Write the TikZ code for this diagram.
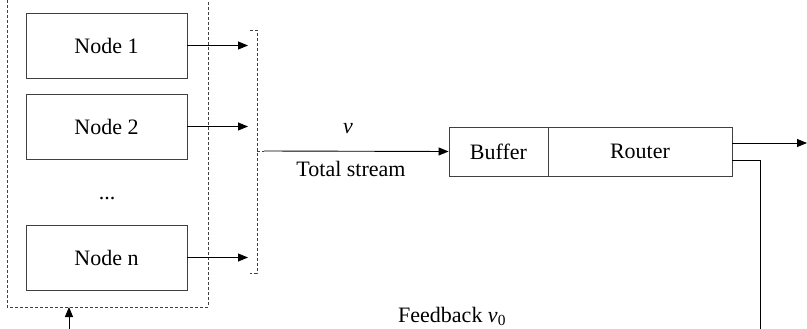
\documentclass[tikz,border=0pt]{standalone}
\usepackage{fontspec}
\setmainfont{Liberation Serif}
\usetikzlibrary{arrows.meta}
\begin{document}
\begin{tikzpicture}[x=1pt,y=-1pt,
  box/.style={draw=black!75,line width=0.9pt,rectangle,minimum height=65pt,minimum width=161pt,inner sep=0pt,font=\fontsize{22}{26}\selectfont},
  rbox/.style={draw=black!75,line width=0.9pt,rectangle,minimum height=49pt,inner sep=0pt,font=\fontsize{22}{26}\selectfont},
  lbl/.style={inner sep=0pt,font=\fontsize{22}{26}\selectfont},
  dsh/.style={draw=black!75,line width=0.8pt,dash pattern=on 3pt off 2pt},
  arr/.style={draw=black,line width=0.9pt,-{Triangle[length=10pt,width=8pt]}},
  ln/.style={draw=black,line width=0.9pt}]
\useasboundingbox (0,0) rectangle (807,329);
\clip (0,0) rectangle (807,329);
% outer dashed box (top edge cut off)
\draw[dsh] (7,-10) -- (7,307) -- (208,307) -- (208,-10);
\node[box] (n1) at (106.5,45.5) {Node 1};
\node[box] (n2) at (106.5,126.5) {Node 2};
\node[box] (nn) at (106.5,257.5) {Node n};
\node[lbl] (dots) at (107,199) {...};
\coordinate (a1) at (248,45.5);
\coordinate (a2) at (248,126.5);
\coordinate (an) at (248,257.5);
\draw[arr] (n1.east) -- (a1);
\draw[arr] (n2.east) -- (a2);
\draw[arr] (nn.east) -- (an);
% bracket
\coordinate (bt) at (257,30);
\coordinate (bb) at (257,273);
\coordinate (bm) at (257,151);
\coordinate (bs) at (264,151);
\draw[dsh] (250,30) -- (bt) -- (bb) -- (250,273);
\draw[dsh] (bm) -- (bs);
% buffer / router
\node[rbox,minimum width=99pt] (buf) at (498.5,151.5) {Buffer};
\node[rbox,minimum width=184pt] (rt) at (640,151.5) {Router};
\draw[arr] (bs) -- (buf.west);
\node[lbl] (v) at (348,129) {\itshape v};
\node[lbl] (ts) at (351,169) {Total stream};
% router output
\coordinate (ro) at (732,143);
\coordinate (out) at (807,143);
\draw[arr] (ro) -- (out);
% feedback
\coordinate (rf) at (732,160);
\coordinate (fc) at (760,160);
\coordinate (fb) at (760,340);
\draw[ln] (rf) -- (fc) -- (fb);
\node[lbl,anchor=base west] (fbl) at (398,322) {Feedback \textit{v}\textsubscript{0}};
\coordinate (ub) at (69,340);
\coordinate (ut) at (69,307);
\draw[arr] (ub) -- (ut);
\end{tikzpicture}
\end{document}
